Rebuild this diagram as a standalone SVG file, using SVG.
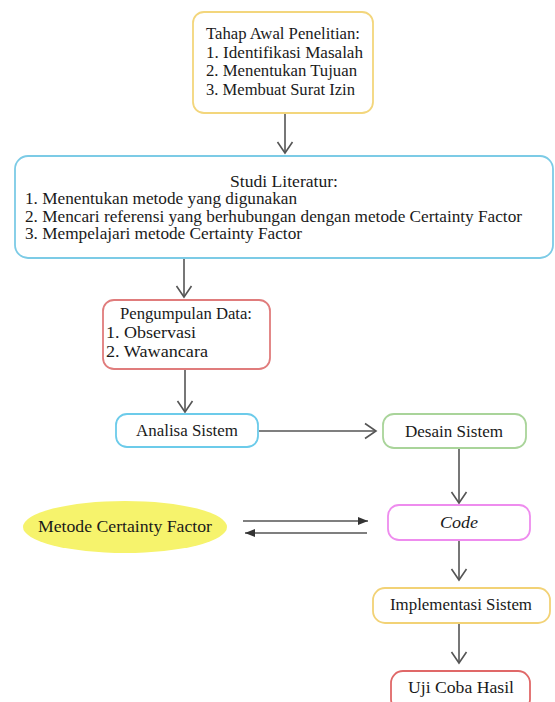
<svg xmlns="http://www.w3.org/2000/svg" width="555" height="702" viewBox="0 0 555 702">
<style>
  .box { fill: #ffffff; stroke-width: 1.8; }
  .t { font-size: 16px; fill: #1a1a1a; }
  .c { text-anchor: middle; }
  .conn { stroke: #555555; stroke-width: 1.6; fill: none; }
</style>
<defs>
  <marker id="open" viewBox="-12 -9 14 18" markerWidth="14" markerHeight="18" refX="0" refY="0" markerUnits="userSpaceOnUse" orient="auto">
    <path d="M-11,-7.5 L0,0 L-11,7.5" fill="none" stroke="#555555" stroke-width="1.6"/>
  </marker>
  <marker id="solid" viewBox="-11 -5 12 10" markerWidth="12" markerHeight="10" refX="0" refY="0" markerUnits="userSpaceOnUse" orient="auto">
    <path d="M-10,-4 L0,0 L-10,4 Z" fill="#333333"/>
  </marker>
</defs>
<rect width="555" height="702" fill="#ffffff"/>

<g id="connectors">
  <line class="conn" x1="285" y1="113" x2="285" y2="153" marker-end="url(#open)"/>
  <line class="conn" x1="184" y1="258" x2="184" y2="297" marker-end="url(#open)"/>
  <line class="conn" x1="185" y1="369" x2="185" y2="412" marker-end="url(#open)"/>
  <line class="conn" x1="259" y1="431" x2="376" y2="431" marker-end="url(#open)"/>
  <line class="conn" x1="459" y1="449" x2="459" y2="503" marker-end="url(#open)"/>
  <line class="conn" x1="243" y1="521" x2="368" y2="521" marker-end="url(#solid)"/>
  <line class="conn" x1="367" y1="533" x2="245" y2="533" marker-end="url(#solid)"/>
  <line class="conn" x1="459" y1="540" x2="459" y2="580" marker-end="url(#open)"/>
  <line class="conn" x1="459" y1="623" x2="459" y2="663" marker-end="url(#open)"/>
</g>

<g font-family="'Liberation Serif', serif">
<g id="tahap-awal">
  <rect class="box" x="193" y="12" width="180" height="101" rx="11" stroke="#f3d67c"/>
  <text class="t" x="206" y="39" textLength="154" lengthAdjust="spacingAndGlyphs">Tahap Awal Penelitian:</text>
  <text class="t" x="206" y="57.5" textLength="157" lengthAdjust="spacingAndGlyphs">1. Identifikasi Masalah</text>
  <text class="t" x="206" y="76" textLength="151" lengthAdjust="spacingAndGlyphs">2. Menentukan Tujuan</text>
  <text class="t" x="206" y="94.5" textLength="149" lengthAdjust="spacingAndGlyphs">3. Membuat Surat Izin</text>
</g>

<g id="studi-literatur">
  <rect class="box" x="15" y="156" width="538" height="102" rx="13" stroke="#7ccbe6"/>
  <text class="t c" x="284" y="187" textLength="108" lengthAdjust="spacingAndGlyphs">Studi Literatur:</text>
  <text class="t" x="25" y="204" textLength="272" lengthAdjust="spacingAndGlyphs">1. Menentukan metode yang digunakan</text>
  <text class="t" x="25" y="221.5" textLength="497" lengthAdjust="spacingAndGlyphs">2. Mencari referensi yang berhubungan dengan metode Certainty Factor</text>
  <text class="t" x="25" y="239" textLength="277" lengthAdjust="spacingAndGlyphs">3. Mempelajari metode Certainty Factor</text>
</g>

<g id="pengumpulan-data">
  <rect class="box" x="103" y="300" width="167" height="69" rx="11" stroke="#e07c7c"/>
  <text class="t" x="120" y="319" textLength="132" lengthAdjust="spacingAndGlyphs">Pengumpulan Data:</text>
  <text class="t" x="106" y="338" textLength="90" lengthAdjust="spacingAndGlyphs">1. Observasi</text>
  <text class="t" x="106" y="357" textLength="102" lengthAdjust="spacingAndGlyphs">2. Wawancara</text>
</g>

<g id="analisa-sistem">
  <rect class="box" x="116" y="414" width="142" height="33" rx="11" stroke="#6ccbea"/>
  <text class="t c" x="187" y="436" textLength="102" lengthAdjust="spacingAndGlyphs">Analisa Sistem</text>
</g>

<g id="desain-sistem">
  <rect class="box" x="383" y="414" width="143" height="34" rx="11" stroke="#a9d49a"/>
  <text class="t c" x="454" y="436.5" textLength="98" lengthAdjust="spacingAndGlyphs">Desain Sistem</text>
</g>

<g id="metode-cf">
  <ellipse cx="125" cy="527" rx="102" ry="26" fill="#f6f36c"/>
  <text class="t c" x="125" y="532" textLength="174" lengthAdjust="spacingAndGlyphs">Metode Certainty Factor</text>
</g>

<g id="code">
  <rect class="box" x="388" y="505" width="142" height="35" rx="11" stroke="#ee8cee"/>
  <text class="t c" x="459" y="528" font-style="italic" textLength="38" lengthAdjust="spacingAndGlyphs">Code</text>
</g>

<g id="implementasi-sistem">
  <rect class="box" x="373" y="588" width="177" height="35" rx="12" stroke="#f2d276"/>
  <text class="t c" x="461" y="610" textLength="142" lengthAdjust="spacingAndGlyphs">Implementasi Sistem</text>
</g>

<g id="uji-coba-hasil">
  <rect class="box" x="391" y="671" width="139" height="40" rx="12" stroke="#e06868"/>
  <text class="t c" x="461" y="693" textLength="106" lengthAdjust="spacingAndGlyphs">Uji Coba Hasil</text>
</g>
</g>
</svg>
